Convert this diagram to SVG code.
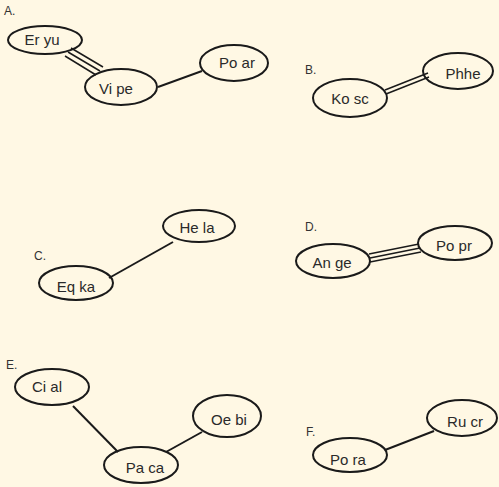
<svg xmlns="http://www.w3.org/2000/svg" width="499" height="487" viewBox="0 0 499 487">
<style>
.n ellipse{fill:none;stroke:#1a1a1a;stroke-width:2}
.n text,.lab{font-family:"Liberation Sans",Arial,sans-serif;font-size:15px;fill:#2a2a2a;text-anchor:middle;dominant-baseline:central}
.lab{text-anchor:start;font-size:12px;fill:#333}
.e line{stroke:#1a1a1a;stroke-width:2}
.e .thin{stroke-width:1.5}
</style>
<rect width="499" height="487" fill="#fff8e4"/>
<text class="lab" x="4" y="11">A.</text>
<text class="lab" x="305" y="70">B.</text>
<text class="lab" x="34" y="256">C.</text>
<text class="lab" x="305" y="227">D.</text>
<text class="lab" x="6" y="365">E.</text>
<text class="lab" x="306" y="432">F.</text>
<g id="connectors" class="e">
  <line class="thin" x1="65" y1="56" x2="96" y2="75"/>
  <line class="thin" x1="68" y1="52" x2="100" y2="71"/>
  <line class="thin" x1="71" y1="48" x2="103" y2="67"/>
  <line x1="158" y1="87" x2="202" y2="71"/>
  <line class="thin" x1="385" y1="90" x2="428" y2="73"/>
  <line class="thin" x1="386" y1="94" x2="429" y2="77"/>
  <line x1="109" y1="278" x2="173" y2="242"/>
  <line class="thin" x1="369" y1="254" x2="419" y2="244"/>
  <line class="thin" x1="370" y1="258" x2="420" y2="248"/>
  <line class="thin" x1="370" y1="262" x2="421" y2="252"/>
  <line x1="73" y1="406" x2="118" y2="452"/>
  <line x1="166" y1="452" x2="202" y2="432"/>
  <line x1="385" y1="450" x2="434" y2="431"/>
</g>
<g id="n-eryu" class="n"><ellipse cx="45" cy="40" rx="37" ry="14"/><text x="42" y="39">Er yu</text></g>
<g id="n-vipe" class="n"><ellipse cx="121" cy="87" rx="36" ry="18"/><text x="116" y="88">Vi pe</text></g>
<g id="n-poar" class="n"><ellipse cx="234" cy="63" rx="34" ry="18"/><text x="237" y="62">Po ar</text></g>
<g id="n-kosc" class="n"><ellipse cx="350" cy="98" rx="37" ry="19"/><text x="350" y="98">Ko sc</text></g>
<g id="n-phhe" class="n"><ellipse cx="458" cy="71" rx="35" ry="18"/><text x="463" y="73">Phhe</text></g>
<g id="n-eqka" class="n"><ellipse cx="76" cy="283" rx="37" ry="17"/><text x="76" y="286">Eq ka</text></g>
<g id="n-hela" class="n"><ellipse cx="199" cy="226" rx="36" ry="16"/><text x="197" y="227">He la</text></g>
<g id="n-ange" class="n"><ellipse cx="333" cy="261" rx="37" ry="17"/><text x="332" y="262">An ge</text></g>
<g id="n-popr" class="n"><ellipse cx="455" cy="243" rx="37" ry="17"/><text x="454" y="245">Po pr</text></g>
<g id="n-cial" class="n"><ellipse cx="52" cy="387" rx="37" ry="18"/><text x="47" y="386">Ci al</text></g>
<g id="n-oebi" class="n"><ellipse cx="227" cy="416" rx="34" ry="21"/><text x="229" y="419">Oe bi</text></g>
<g id="n-paca" class="n"><ellipse cx="141" cy="465" rx="37" ry="18"/><text x="145" y="467">Pa ca</text></g>
<g id="n-pora" class="n"><ellipse cx="350" cy="455" rx="37" ry="17"/><text x="348" y="459">Po ra</text></g>
<g id="n-rucr" class="n"><ellipse cx="462" cy="418" rx="35" ry="18"/><text x="465" y="421">Ru cr</text></g>
</svg>
